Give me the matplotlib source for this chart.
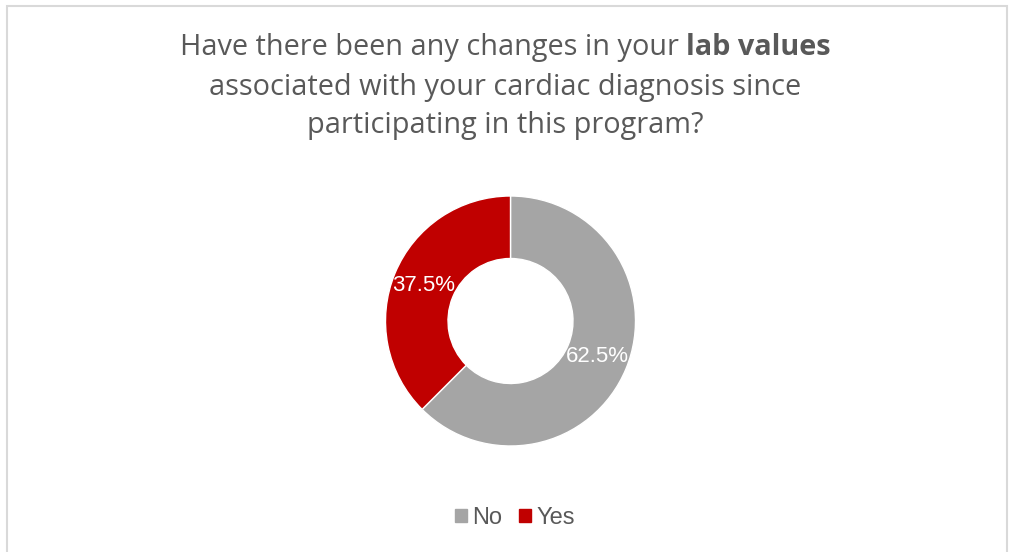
import matplotlib
matplotlib.use("Agg")
import matplotlib.pyplot as plt
from matplotlib.patches import Rectangle
import numpy as np

labels = ["No", "Yes"]
shares = [62.5, 37.5]
colors = ["#a5a5a5", "#c00000"]

title_lines = [
    [("Have there been any changes in your ", "normal"), ("lab values", "bold")],
    [("associated with your cardiac diagnosis since", "normal")],
    [("participating in this program?", "normal")],
]

W, H, DPI = 1009, 552, 100
fig = plt.figure(figsize=(W / DPI, H / DPI), dpi=DPI)
fig.patch.set_facecolor("white")

# light frame around the chart area
fig.patches.append(Rectangle((7 / W, -0.01), (1000 / W), 1 - 6 / H + 0.01,
                             transform=fig.transFigure, fill=False,
                             edgecolor="#d9d9d9", linewidth=1.5))

# donut
cx, cy, r = 510.5, 321, 125
ax = fig.add_axes([(cx - r) / W, (H - cy - r) / H, 2 * r / W, 2 * r / H])
wedges, _ = ax.pie(shares, colors=colors, startangle=90, counterclock=False,
                   radius=1.0, wedgeprops=dict(width=0.5, edgecolor="white",
                                               linewidth=1.0))
ax.set_xlim(-1, 1)
ax.set_ylim(-1, 1)
ax.set_aspect("equal")
ax.axis("off")

start = 90.0
for val in shares:
    sweep = val / 100 * 360
    mid = np.deg2rad(start - sweep / 2)
    ax.text(0.75 * np.cos(mid), 0.75 * np.sin(mid), f"{val:.1f}%",
            ha="center", va="center", color="white", fontsize=16,
            family="Liberation Sans")
    start -= sweep

# title with a bold phrase in the first line
renderer = fig.canvas.get_renderer()
title_font = "Open Sans"
line_y = [48, 87, 126]
for parts, y in zip(title_lines, line_y):
    texts = []
    for s, weight in parts:
        t = fig.text(0, 1 - y / H, s, fontsize=20.8, color="#595959",
                     family=title_font, weight=weight, va="center", ha="left")
        texts.append(t)
    widths = [t.get_window_extent(renderer).width for t in texts]
    x = (W - sum(widths)) / 2 + 1
    for t, w in zip(texts, widths):
        t.set_x(x / W)
        x += w

# legend
handles = [Rectangle((0, 0), 1, 1, color=c) for c in colors]
fig.legend(handles, labels, loc="center", bbox_to_anchor=(515 / W, 1 - 518 / H),
           ncol=2, frameon=False, handlelength=0.5, handleheight=0.5,
           handletextpad=0.25, columnspacing=0.7,
           prop=dict(family="Liberation Sans", size=17),
           labelcolor="#595959")

fig.savefig("out.png", dpi=DPI, facecolor="white")
